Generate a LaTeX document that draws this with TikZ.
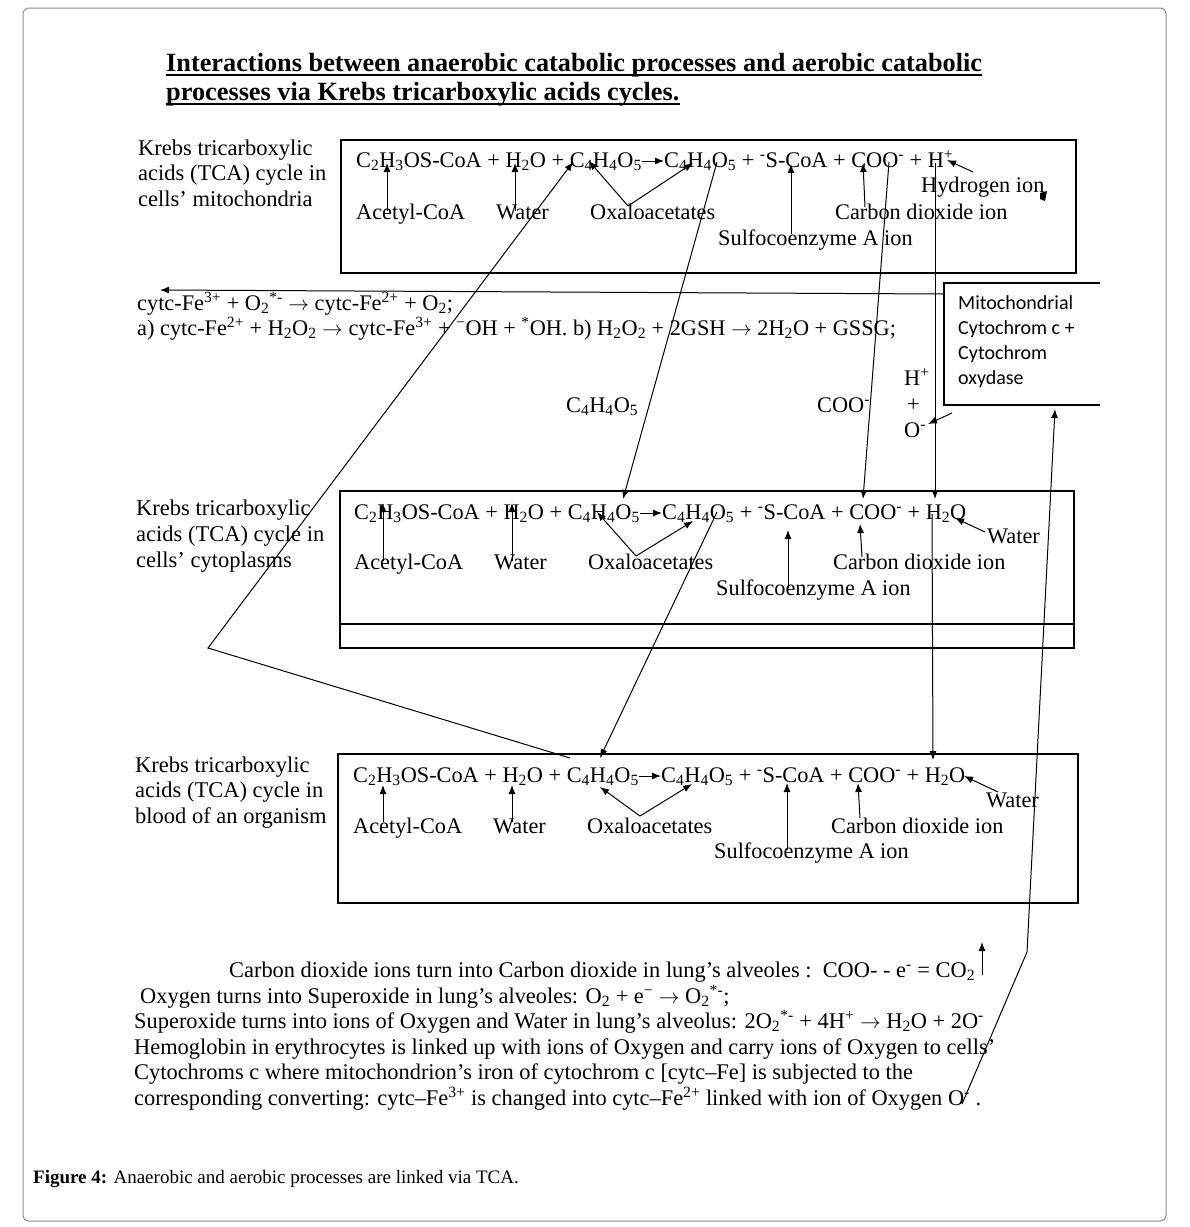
\documentclass[tikz,border=0pt]{standalone}
\usepackage{fontspec}
\setmainfont{Liberation Serif}
\newfontfamily\calib{Carlito}
\usetikzlibrary{arrows.meta}
\newcommand\sbs[1]{\textsubscript{#1}}
\newcommand\sps[1]{\textsuperscript{#1}}
\newcommand\rarr{\ensuremath{\rightarrow}}
\begin{document}
\begin{tikzpicture}[x=1pt,y=-1pt,
  txt/.style={anchor=base west, inner sep=0pt, font=\fontsize{22.3}{25}\selectfont},
  lbl/.style={anchor=base west, inner sep=0pt, font=\fontsize{22.5}{25}\selectfont},
  btxt/.style={anchor=base west, inner sep=0pt, font=\fontsize{22.4}{25}\selectfont},
  ttl/.style={anchor=base west, inner sep=0pt, font=\fontsize{26.3}{28}\selectfont\bfseries},
  mtxt/.style={anchor=base west, inner sep=0pt, font=\calib\fontsize{20}{24}\selectfont},
  frame/.style={draw, line width=1.1pt},
  arr/.style={line width=1pt, -{Latex[length=9pt,width=7pt]}},
  ln/.style={line width=1pt}]
\useasboundingbox (0,0) rectangle (1190,1227);
\draw[black!45, line width=1pt, rounded corners=6pt] (23,8) rectangle (1166,1221);

% title
\node[ttl] (t1) at (166,71) {Interactions between anaerobic catabolic processes and aerobic catabolic};
\node[ttl] (t2) at (166,100) {processes via Krebs tricarboxylic acids cycles.};
\draw[line width=2pt] ([yshift=-4pt]t1.base west) -- ([yshift=-4pt]t1.base east);
\draw[line width=2pt] ([yshift=-4pt]t2.base west) -- ([yshift=-4pt]t2.base east);

% left labels
\node[lbl] (k1a) at (138,155) {Krebs tricarboxylic};
\node[lbl] (k1b) at (138,180) {acids (TCA) cycle in};
\node[lbl] (k1c) at (138,206) {cells’ mitochondria};
\node[lbl] (k2a) at (136,515) {Krebs tricarboxylic};
\node[lbl] (k2b) at (136,541) {acids (TCA) cycle in};
\node[lbl] (k2c) at (136,567) {cells’ cytoplasms};
\node[lbl] (k3a) at (135,772) {Krebs tricarboxylic};
\node[lbl] (k3b) at (135,797) {acids (TCA) cycle in};
\node[lbl] (k3c) at (135,823) {blood of an organism};

% boxes
\draw[frame] (341,140) rectangle (1076,273);
\draw[frame] (340,491) rectangle (1074,648);
\draw[frame] (340,624) -- (1074,624);
\draw[frame] (338,754) rectangle (1078,903);
\draw[frame] (1100,283) -- (944,283) -- (944,405) -- (1100,405);

% box 1
\node[txt] (e1a) at (356,167) {C\sbs{2}H\sbs{3}OS-CoA + H\sbs{2}O + C\sbs{4}H\sbs{4}O\sbs{5}};
\node[txt] (e1b) at ([xshift=22pt]e1a.base east) {C\sbs{4}H\sbs{4}O\sbs{5} + \sps{-}S-CoA + COO\sps{-} + H\sps{+}};
\draw[arr] ([yshift=6pt]e1a.base east) -- ([yshift=6pt]e1b.base west);
\node[txt] (a1) at (356,219) {Acetyl-CoA};
\node[txt] (w1) at (496,219) {Water};
\node[txt] (o1) at (590,219) {Oxaloacetates};
\node[txt] (c1) at (835,219) {Carbon dioxide ion};
\node[txt] (s1) at (718,245) {Sulfocoenzyme A ion};
\node[txt] (h1) at (921,192) {Hydrogen ion};
\coordinate (a1b) at (387,211); \coordinate (a1t) at (387,163);
\coordinate (w1b) at (515,211); \coordinate (w1t) at (515,163);
\coordinate (o1m) at (628,206); \coordinate (o1l) at (589,161); \coordinate (o1r) at (693,163);
\coordinate (s1b) at (791,234); \coordinate (s1t) at (791,164);
\coordinate (c1b) at (865,207); \coordinate (c1t) at (863,163);
\coordinate (h1b) at (973,172); \coordinate (h1t) at (947,160);
\draw[arr] (a1b) -- (a1t);
\draw[arr] (w1b) -- (w1t);
\draw[arr] (o1m) -- (o1l);
\draw[arr] (o1m) -- (o1r);
\draw[arr] (s1b) -- (s1t);
\draw[arr] (c1b) -- (c1t);
\draw[arr] (h1b) -- (h1t);
\fill (1040,193) -- (1047,191) -- (1045,201) -- (1040,199) -- cycle;

% middle text
\node[txt] (m1) at (137,310) {cytc-Fe\sps{3+} + O\sbs{2}\sps{*-} \rarr{} cytc-Fe\sps{2+} + O\sbs{2};};
\node[txt] (m2) at (137,335) {a) cytc-Fe\sps{2+} + H\sbs{2}O\sbs{2} \rarr{} cytc-Fe\sps{3+} + \sps{−}OH + \sps{*}OH. b) H\sbs{2}O\sbs{2} + 2GSH \rarr{} 2H\sbs{2}O + GSSG;};
\node[txt] (c4m) at (566,412) {C\sbs{4}H\sbs{4}O\sbs{5}};
\node[txt] (coom) at (817,412) {COO\sps{-}};
\node[txt] (hp) at (904,385) {H\sps{+}};
\node[txt] (pl) at (907,411) {+};
\node[txt] (om) at (904,437) {O\sps{-}};

% mito box text
\node[mtxt] (mt1) at (958,309) {Mitochondrial};
\node[mtxt] (mt2) at (958,334) {Cytochrom c +};
\node[mtxt] (mt3) at (958,359) {Cytochrom};
\node[mtxt] (mt4) at (958,384) {oxydase};
\coordinate (mbl) at (944,294);
\coordinate (mleft) at (160,290);
\draw[arr] (mbl) -- (mleft);
\coordinate (mbo) at (952,413); \coordinate (omt) at (928,424);
\draw[arr] (mbo) -- (omt);

% box 2
\node[txt] (e2a) at (354,519) {C\sbs{2}H\sbs{3}OS-CoA + H\sbs{2}O + C\sbs{4}H\sbs{4}O\sbs{5}};
\node[txt] (e2b) at ([xshift=22pt]e2a.base east) {C\sbs{4}H\sbs{4}O\sbs{5} + \sps{-}S-CoA + COO\sps{-} + H\sbs{2}O};
\draw[arr] ([yshift=6pt]e2a.base east) -- ([yshift=6pt]e2b.base west);
\node[txt] (a2) at (354,569) {Acetyl-CoA};
\node[txt] (w2) at (494,569) {Water};
\node[txt] (o2) at (588,569) {Oxaloacetates};
\node[txt] (c2) at (833,569) {Carbon dioxide ion};
\node[txt] (s2) at (716,595) {Sulfocoenzyme A ion};
\node[txt] (wr2) at (987,543) {Water};
\coordinate (a2b) at (383,561); \coordinate (a2t) at (383,503);
\coordinate (w2b) at (512,561); \coordinate (w2t) at (512,503);
\coordinate (o2m) at (636,556); \coordinate (o2l) at (597,512); \coordinate (o2r) at (693,521);
\coordinate (s2b) at (788,588); \coordinate (s2t) at (788,530);
\coordinate (c2b) at (862,557); \coordinate (c2t) at (860,524);
\coordinate (wr2b) at (985,532); \coordinate (wr2t) at (955,518);
\draw[arr] (a2b) -- (a2t);
\draw[arr] (w2b) -- (w2t);
\draw[arr] (o2m) -- (o2l);
\draw[arr] (o2m) -- (o2r);
\draw[arr] (s2b) -- (s2t);
\draw[arr] (c2b) -- (c2t);
\draw[arr] (wr2b) -- (wr2t);

% box 3
\node[txt] (e3a) at (353,782) {C\sbs{2}H\sbs{3}OS-CoA + H\sbs{2}O + C\sbs{4}H\sbs{4}O\sbs{5}};
\node[txt] (e3b) at ([xshift=22pt]e3a.base east) {C\sbs{4}H\sbs{4}O\sbs{5} + \sps{-}S-CoA + COO\sps{-} + H\sbs{2}O};
\draw[arr] ([yshift=6pt]e3a.base east) -- ([yshift=6pt]e3b.base west);
\node[txt] (a3) at (353,833) {Acetyl-CoA};
\node[txt] (w3) at (493,833) {Water};
\node[txt] (o3) at (587,833) {Oxaloacetates};
\node[txt] (c3) at (831,833) {Carbon dioxide ion};
\node[txt] (s3) at (714,858) {Sulfocoenzyme A ion};
\node[txt] (wr3) at (986,807) {Water};
\coordinate (a3b) at (383,822); \coordinate (a3t) at (383,785);
\coordinate (w3b) at (512,822); \coordinate (w3t) at (512,785);
\coordinate (o3m) at (640,816); \coordinate (o3l) at (600,787); \coordinate (o3r) at (692,784);
\coordinate (s3b) at (787,850); \coordinate (s3t) at (787,783);
\coordinate (c3b) at (860,818); \coordinate (c3t) at (858,783);
\coordinate (wr3b) at (998,792); \coordinate (wr3t) at (964,776);
\draw[arr] (a3b) -- (a3t);
\draw[arr] (w3b) -- (w3t);
\draw[arr] (o3m) -- (o3l);
\draw[arr] (o3m) -- (o3r);
\draw[arr] (s3b) -- (s3t);
\draw[arr] (c3b) -- (c3t);
\draw[arr] (wr3b) -- (wr3t);

% long connectors
\coordinate (b3c4) at (570,758); \coordinate (bend) at (208,648); \coordinate (b1c4) at (573,162);
\draw[arr] (b3c4) -- (bend) -- (b1c4);
\coordinate (b1p) at (717,162); \coordinate (b2c4) at (623,499);
\draw[arr] (b1p) -- (b2c4);
\coordinate (b2p) at (717,512); \coordinate (b3in) at (600,758);
\draw[arr] (b2p) -- (b3in);
\coordinate (b1coo) at (889,162); \coordinate (b2coo) at (863,499);
\draw[arr] (b1coo) -- (b2coo);
\coordinate (b1h) at (935,163); \coordinate (b2h) at (935,499);
\draw[arr] (b1h) -- (b2h);
\coordinate (b2w) at (932,514); \coordinate (b3h) at (933,760);
\draw[arr] (b2w) -- (b3h);
\coordinate (oend) at (962,1104); \coordinate (obend) at (1027,952); \coordinate (mbot) at (1055,409);
\draw[arr] (oend) -- (obend) -- (mbot);
\coordinate (co2b) at (982,975); \coordinate (co2t) at (982,942);
\draw[arr] (co2b) -- (co2t);

% bottom text
\node[btxt] (l1) at (229,977) {Carbon dioxide ions turn into Carbon dioxide in lung’s alveoles :\ \ COO- - e\sps{-} = CO\sbs{2}};
\node[btxt] (l2) at (140,1003) {Oxygen turns into Superoxide in lung’s alveoles: O\sbs{2} + e\sps{−} \rarr{} O\sbs{2}\sps{*-};};
\node[btxt] (l3) at (134,1028) {Superoxide turns into ions of Oxygen and Water in lung’s alveolus: 2O\sbs{2}\sps{*-} + 4H\sps{+} \rarr{} H\sbs{2}O + 2O\sps{-}};
\node[btxt] (l4) at (134,1054) {Hemoglobin in erythrocytes is linked up with ions of Oxygen and carry ions of Oxygen to cells’};
\node[btxt] (l5) at (134,1079) {Cytochroms c where mitochondrion’s iron of cytochrom c [cytc–Fe] is subjected to the};
\node[btxt] (l6) at (134,1105) {corresponding converting: cytc–Fe\sps{3+} is changed into cytc–Fe\sps{2+} linked with ion of Oxygen O\sps{-} .};

% caption
\node[anchor=base west, inner sep=0pt, font=\fontsize{19}{22}\selectfont] (cap) at (33,1183) {\textbf{Figure 4:} Anaerobic and aerobic processes are linked via TCA.};
\end{tikzpicture}
\end{document}
